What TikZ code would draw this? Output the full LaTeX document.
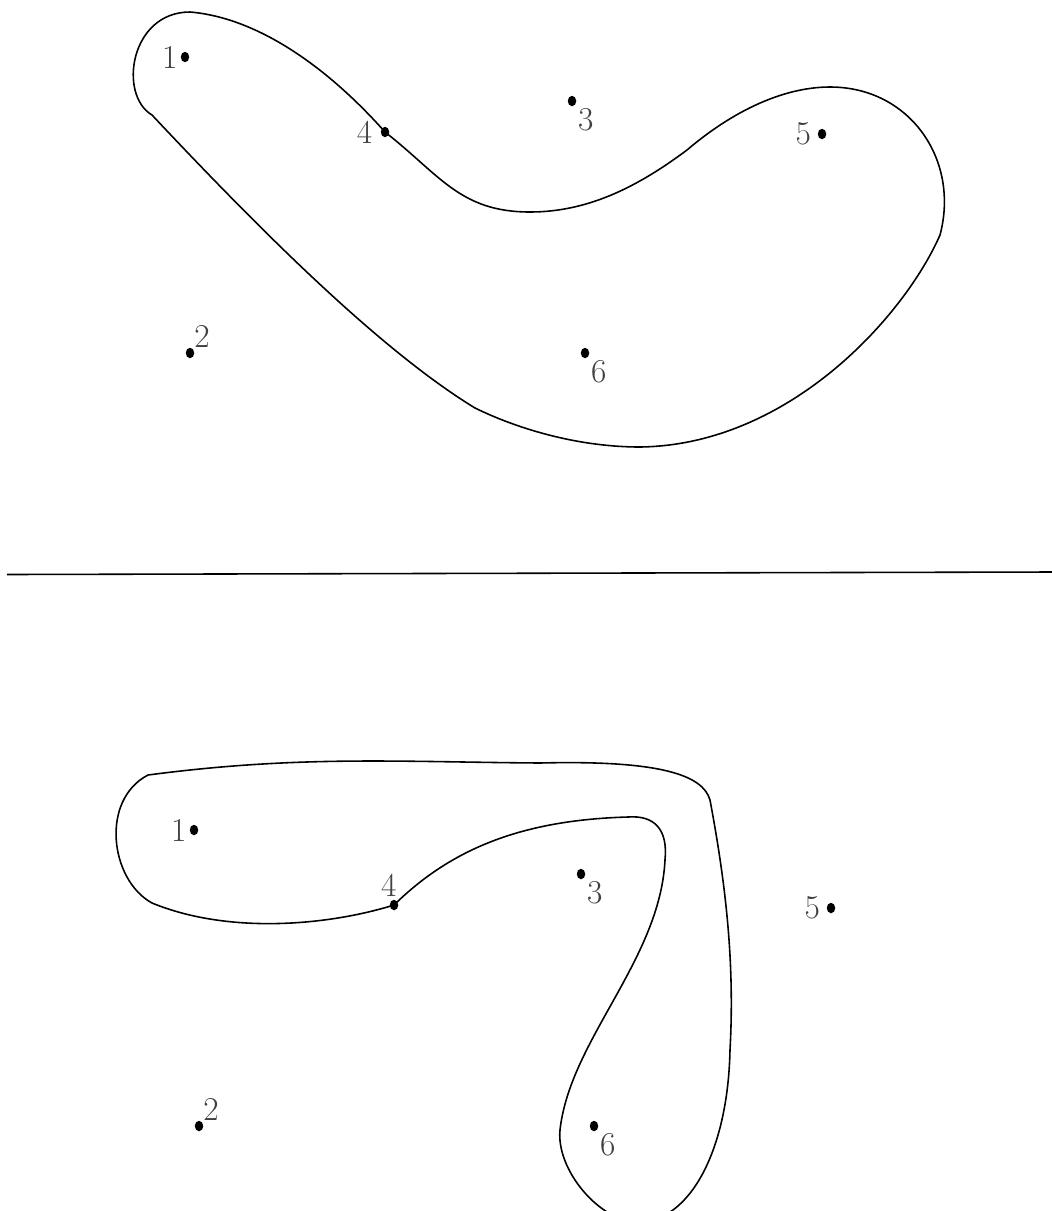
\documentclass[tikz,border=0pt]{standalone}
\usepackage{tikz}
\usetikzlibrary{positioning,shapes.geometric}

\begin{document}
\begin{tikzpicture}[
  x=0.02cm, y=-0.02cm,
  every node/.style={font=\fontsize{19}{23}\selectfont},
  dot/.style={ellipse, fill=black, inner sep=0pt, minimum width=0.17cm, minimum height=0.21cm},
  lbl/.style={text=black!75, inner sep=1.5pt},
  outline/.style={line width=0.9pt}
]
\useasboundingbox (0,0) rectangle (1052,1211);
\clip (0,0) rectangle (1052,1211);

% upper configuration
\foreach \n/\x/\y in {1/185/57, 2/190/353, 3/572/101, 4/385/132, 5/822/134, 6/585/353} {
  \node[dot] (t\n) at (\x,\y) {};
}
\node[lbl, left=0pt of t1] {1};
\node[lbl, above right=-1pt and -1pt of t2] {2};
\node[lbl, below right=0pt of t3] {3};
\node[lbl, left=3pt of t4] {4};
\node[lbl, left=2pt of t5] {5};
\node[lbl, below right=0pt of t6] {6};

\draw[outline] (152,115) .. controls (118,95) and (130,12) .. (190,12)
  .. controls (260,18) and (330,70) .. (t4.center)
  .. controls (440,175) and (460,212) .. (530,212)
  .. controls (590,212) and (640,185) .. (687,150)
  .. controls (740,105) and (790,87) .. (830,87)
  .. controls (910,87) and (960,160) .. (940,235)
  .. controls (905,315) and (790,445) .. (640,447)
  .. controls (580,447) and (520,430) .. (475,408)
  .. controls (380,350) and (260,230) .. cycle;

\draw[line width=0.9pt] (7,574.5) -- (1052,572);

% lower configuration
\foreach \n/\x/\y in {1/194/830, 2/199/1126, 3/581/874, 4/394/905, 5/831/908, 6/594/1126} {
  \node[dot] (b\n) at (\x,\y) {};
}
\node[lbl, left=0pt of b1] {1};
\node[lbl, above right=-1pt and -1pt of b2] {2};
\node[lbl, below right=0pt of b3] {3};
\node[lbl, above left=1pt and -5pt of b4] {4};
\node[lbl, left=2pt of b5] {5};
\node[lbl, below right=0pt of b6] {6};

\draw[outline] (148,775) .. controls (300,755) and (400,762) .. (540,763)
  .. controls (660,760) and (703,775) .. (710,800)
  .. controls (725,880) and (735,960) .. (730,1050)
  .. controls (728,1150) and (690,1222) .. (638,1222)
  .. controls (600,1222) and (556,1170) .. (560,1130)
  .. controls (570,1040) and (660,960) .. (665,860)
  .. controls (668,830) and (655,815) .. (628,817)
  .. controls (520,820) and (450,850) .. (b4.center)
  .. controls (330,925) and (230,935) .. (152,903)
  .. controls (110,880) and (100,800) .. cycle;
\end{tikzpicture}
\end{document}
